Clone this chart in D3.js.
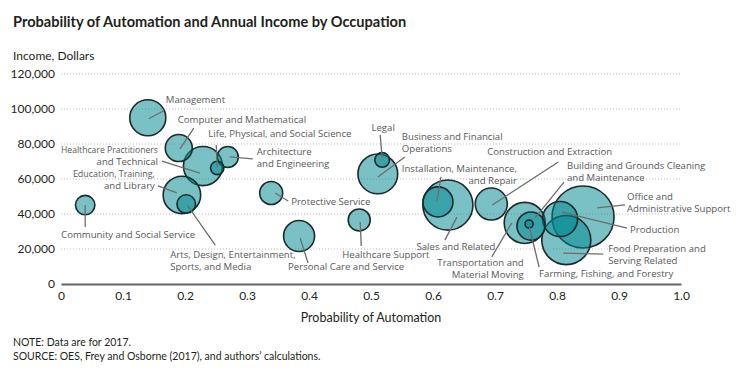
<!DOCTYPE html>
<html>
<head>
<meta charset="utf-8">
<script src="https://cdn.jsdelivr.net/npm/d3@7"></script>
<style>
  body { margin: 0; background: #fff; }
  svg text { font-family: Lato, "Noto Sans", sans-serif; }
  svg text.lbl { font-family: "Open Sans", Lato, sans-serif; }
</style>
</head>
<body>
<div id="chart"></div>
<script>
// occupations, probability of automation, mean income, employment (thousands)
var occupations = ["Management", "Computer and Mathematical", "Healthcare Practitioners and Technical",
  "Life, Physical, and Social Science", "Architecture and Engineering", "Education, Training, and Library",
  "Arts, Design, Entertainment, Sports, and Media", "Community and Social Service", "Protective Service",
  "Personal Care and Service", "Healthcare Support", "Legal", "Business and Financial Operations",
  "Installation, Maintenance, and Repair", "Sales and Related", "Construction and Extraction",
  "Transportation and Material Moving", "Building and Grounds Cleaning and Maintenance",
  "Farming, Fishing, and Forestry", "Production", "Office and Administrative Support",
  "Food Preparation and Serving Related"];
var probability = [0.140, 0.190, 0.229, 0.252, 0.269, 0.195, 0.202, 0.039, 0.339, 0.384, 0.481,
  0.518, 0.511, 0.608, 0.624, 0.694, 0.748, 0.758, 0.755, 0.805, 0.842, 0.815];
var income = [95000, 77700, 67400, 66300, 72600, 50900, 45700, 45100, 52000, 27400, 36600,
  70900, 62900, 46900, 45100, 45700, 34900, 33100, 34300, 37100, 38300, 25100];
var employment = [7400, 4160, 8700, 1020, 2520, 8000, 1970, 2150, 3020, 5480, 2760,
  1220, 9000, 5130, 14300, 5840, 9600, 4470, 370, 7000, 21900, 13700];

var xTicks = [0, 0.1, 0.2, 0.3, 0.4, 0.5, 0.6, 0.7, 0.8, 0.9, 1.0];
var yTicks = [0, 20000, 40000, 60000, 80000, 100000, 120000];

// label text lines, anchor, text offset and leader line relative to bubble centre
// fit = squeeze a line to this width so it does not run into the axis labels
var labelLayout = {
  "Management": { lines: ["Management"], anchor: "start", t: [18, -18], l: [1, 1, 16, -7] },
  "Computer and Mathematical": { lines: ["Computer and Mathematical"], anchor: "start", t: [-1, -28], l: [1, 1, 15, -20] },
  "Healthcare Practitioners and Technical": { lines: ["Healthcare Practitioners", "and Technical"], anchor: "end", t: [-45, -16], l: [-41, -5, -3, 7], fit: [97] },
  "Life, Physical, and Social Science": { lines: ["Life, Physical, and Social Science"], anchor: "start", t: [-9, -34], l: [0, -1, -1, -23] },
  "Architecture and Engineering": { lines: ["Architecture", "and Engineering"], anchor: "start", t: [29, -5], l: [2, 0, 25, 2] },
  "Education, Training, and Library": { lines: ["Education, Training,", "and Library"], anchor: "end", t: [-27, -21], l: [-24, -9, -5, -2], fit: [82] },
  "Arts, Design, Entertainment, Sports, and Media": { lines: ["Arts, Design, Entertainment,", "Sports, and Media"], anchor: "start", t: [-16, 51], l: [1, 1, 29, 41] },
  "Community and Social Service": { lines: ["Community and Social Service"], anchor: "middle", t: [43, 30], l: [0, 0, 0, 22] },
  "Protective Service": { lines: ["Protective Service"], anchor: "start", t: [20, 9], l: [4, 0, 17, 8] },
  "Personal Care and Service": { lines: ["Personal Care and Service"], anchor: "start", t: [-11, 31], l: [1, 2, 9, 27] },
  "Healthcare Support": { lines: ["Healthcare Support"], anchor: "start", t: [-17, 35], l: [1, 2, 2, 26] },
  "Legal": { lines: ["Legal"], anchor: "middle", t: [1, -32], l: [0, -2, -2, -25] },
  "Business and Financial Operations": { lines: ["Business and Financial", "Operations"], anchor: "start", t: [24, -37], l: [0, 3, 27, -17] },
  "Installation, Maintenance, and Repair": { lines: ["Installation, Maintenance,", "and Repair"], anchor: "end", t: [79, -33], l: [-1, -1, 3, -25] },
  "Sales and Related": { lines: ["Sales and Related"], anchor: "middle", t: [8, 42], l: [9, 12, -3, 35] },
  "Construction and Extraction": { lines: ["Construction and Extraction"], anchor: "start", t: [-4, -52], l: [1, 1, 67, -42] },
  "Transportation and Material Moving": { lines: ["Transportation and", "Material Moving"], anchor: "end", t: [-1, 40], l: [-13, 0, -33, 34] },
  "Building and Grounds Cleaning and Maintenance": { lines: ["Building and Grounds Cleaning", "and Maintenance"], anchor: "start", t: [36, -60], l: [4, -8, 33, -44] },
  "Farming, Fishing, and Forestry": { lines: ["Farming, Fishing, and Forestry"], anchor: "start", t: [10, 50], l: [0, 2, 10, 43] },
  "Production": { lines: ["Production"], anchor: "start", t: [70, 11], l: [2, -7, 67, 9] },
  "Office and Administrative Support": { lines: ["Office and", "Administrative Support"], anchor: "start", t: [44, -20], l: [14, -9, 42, -12] },
  "Food Preparation and Serving Related": { lines: ["Food Preparation and", "Serving Related"], anchor: "start", t: [42, 9], l: [-3, 13, 37, 14] }
};

var width = 749, height = 372;
var svg = d3.select("#chart").append("svg")
  .attr("width", width)
  .attr("height", height);

var x = d3.scaleLinear().domain([0, 1]).range([61, 681]);
var y = d3.scaleLinear().domain([0, 120000]).range([284, 74]);
var r = d3.scaleSqrt().domain([0, 21900]).range([0, 31]);

// titles
svg.append("text").attr("x", 13).attr("y", 27)
  .style("font-size", "14.6px").style("font-weight", "bold").style("fill", "#231f20")
  .text("Probability of Automation and Annual Income by Occupation");
svg.append("text").attr("x", 13).attr("y", 60)
  .style("font-size", "12px").style("fill", "#231f20")
  .text("Income, Dollars");

// gridlines
svg.append("g").selectAll("line")
  .data(yTicks.filter(function(d) { return d > 0; }))
  .enter().append("line")
  .attr("x1", 61).attr("x2", 681)
  .attr("y1", function(d) { return y(d); })
  .attr("y2", function(d) { return y(d); })
  .attr("stroke", "#bdbdbd").attr("stroke-width", 1)
  .attr("stroke-dasharray", "1,2");

// y axis labels
var fmt = d3.format(",");
svg.append("g").selectAll("text")
  .data(yTicks).enter().append("text")
  .attr("x", 55).attr("y", function(d) { return y(d); })
  .attr("dy", "0.35em").attr("text-anchor", "end")
  .style("font-size", "12px").style("fill", "#231f20")
  .text(function(d) { return fmt(d); });

// x axis
var xAxis = svg.append("g").attr("transform", "translate(0," + y(0) + ")")
  .call(d3.axisBottom(x).tickValues(xTicks).tickSize(0).tickPadding(7)
    .tickFormat(function(d) { return d === 0 ? "0" : d3.format(".1f")(d); }));
xAxis.select(".domain").attr("stroke", "#666").attr("stroke-width", 2);
xAxis.selectAll("text").style("font-size", "12px").style("fill", "#231f20")
  .style("font-family", "Lato, sans-serif");

svg.append("text").attr("x", 371).attr("y", 322).attr("text-anchor", "middle")
  .style("font-size", "12.5px").style("fill", "#231f20")
  .text("Probability of Automation");

// build rows
var rows = occupations.map(function(name, i) {
  return { name: name, p: probability[i], inc: income[i], emp: employment[i] };
});

// bubbles, biggest first
svg.append("g").selectAll("circle")
  .data(rows.slice().sort(function(a, b) { return b.emp - a.emp; }))
  .enter().append("circle")
  .attr("cx", function(d) { return x(d.p); })
  .attr("cy", function(d) { return y(d.inc); })
  .attr("r", function(d) { return r(d.emp); })
  .attr("fill", "#008890").attr("fill-opacity", 0.52)
  .attr("stroke", "#1c2a2b").attr("stroke-width", 1.6);

// leader lines
svg.append("g").selectAll("line")
  .data(rows).enter().append("line")
  .attr("x1", function(d) { return x(d.p) + labelLayout[d.name].l[0]; })
  .attr("y1", function(d) { return y(d.inc) + labelLayout[d.name].l[1]; })
  .attr("x2", function(d) { return x(d.p) + labelLayout[d.name].l[2]; })
  .attr("y2", function(d) { return y(d.inc) + labelLayout[d.name].l[3]; })
  .attr("stroke", "#6d6d6d").attr("stroke-width", 1.3);

// labels
var labels = svg.append("g").selectAll("text")
  .data(rows).enter().append("text")
  .attr("class", "lbl")
  .attr("text-anchor", function(d) { return labelLayout[d.name].anchor; })
  .attr("x", function(d) { return x(d.p) + labelLayout[d.name].t[0]; })
  .attr("y", function(d) { return y(d.inc) + labelLayout[d.name].t[1]; })
  .style("font-size", "9.6px").style("fill", "#58595b");

labels.selectAll("tspan")
  .data(function(d) {
    var lay = labelLayout[d.name];
    return lay.lines.map(function(s, i) {
      return { s: s, x: x(d.p) + lay.t[0], fit: lay.fit ? lay.fit[i] : null };
    });
  })
  .enter().append("tspan")
  .attr("x", function(d) { return d.x; })
  .attr("dy", function(d, i) { return i === 0 ? "0.35em" : "11.5px"; })
  .attr("textLength", function(d) { return d.fit; })
  .attr("lengthAdjust", function(d) { return d.fit ? "spacingAndGlyphs" : null; })
  .text(function(d) { return d.s; });

// notes
svg.append("text").attr("x", 13).attr("y", 346)
  .style("font-size", "10.5px").style("fill", "#231f20")
  .text("NOTE: Data are for 2017.");
svg.append("text").attr("x", 13).attr("y", 360)
  .style("font-size", "10.5px").style("fill", "#231f20")
  .text("SOURCE: OES, Frey and Osborne (2017), and authors\u2019 calculations.");
</script>
</body>
</html>
